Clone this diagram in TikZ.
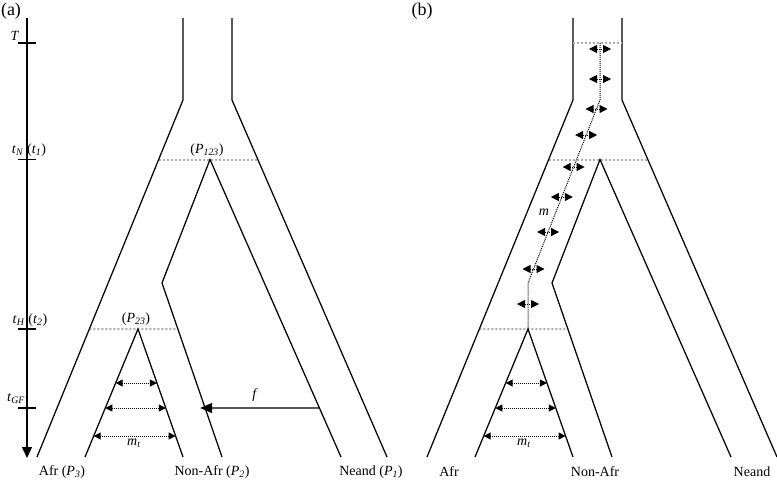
\documentclass[tikz,border=0pt]{standalone}
\usepackage{fontspec}
\setmainfont{Liberation Serif}
\usetikzlibrary{arrows.meta,calc}
\newcommand\psub[1]{\textsubscript{\textit{#1}}}
\tikzset{
 lin/.style={line width=1.25pt},
 gdot/.style={draw=black!32, line width=2pt, dash pattern=on 2pt off 2pt},
 dotl/.style={line width=1pt, dash pattern=on 1pt off 1pt},
 mig/.style={dotl, {Triangle[length=7pt,width=7pt]}-{Triangle[length=7pt,width=7pt]}},
 mig2/.style={dotl, {Triangle[length=8pt,width=8pt]}-{Triangle[length=8pt,width=8pt]}},
 lab/.style={font=\fontsize{14}{16}\selectfont, inner sep=0pt},
}
\newcommand\treecore[1]{%
 \coordinate (#1tl) at (183,18); \coordinate (#1tl2) at (183,100); \coordinate (#1afr) at (37,457);
 \coordinate (#1tr) at (232,18); \coordinate (#1tr2) at (232,100); \coordinate (#1ner) at (387,457);
 \coordinate (#1p123) at (210,159.5); \coordinate (#1kink) at (162,283);
 \coordinate (#1naf) at (222,457); \coordinate (#1nin) at (341,457);
 \coordinate (#1p23) at (138,329); \coordinate (#1ain) at (85,457); \coordinate (#1arin) at (183,457);
 \coordinate (#1g1l) at ($(#1tl2)!0.1667!(#1afr)$); \coordinate (#1g1r) at ($(#1tr2)!0.1667!(#1ner)$);
 \draw[gdot] (#1g1l) -- (#1g1r);
 \coordinate (#1g2l) at ($(#1tl2)!0.6415!(#1afr)$); \coordinate (#1g2r) at ($(#1kink)!0.2644!(#1naf)$);
 \draw[gdot] (#1g2l) -- (#1g2r);
 \draw[lin] (#1tl) -- (#1tl2) -- (#1afr);
 \draw[lin] (#1tr) -- (#1tr2) -- (#1ner);
 \draw[lin] (#1naf) -- (#1kink) -- (#1p123) -- (#1nin);
 \draw[lin] (#1ain) -- (#1p23) -- (#1arin);
 \foreach \f/\i in {0.4219/1,0.6172/2,0.8359/3} {
  \coordinate (#1ml\i) at ($(#1p23)!\f!(#1ain)$);
  \coordinate (#1mr\i) at ($(#1p23)!\f!(#1arin)$);
  \draw[mig] (#1ml\i) -- (#1mr\i);
 }
}
\begin{document}
\begin{tikzpicture}[x=1pt,y=-1pt]
\useasboundingbox (0,0) rectangle (777,482);
% panel (a)
\begin{scope}
 \treecore{a-}
 \coordinate (ax0) at (27,18); \coordinate (ax1) at (27,458);
 \draw[lin,-{Triangle[length=11pt,width=10pt]}] (ax0) -- (ax1);
 \foreach \y/\n in {43/T,159.5/N,329/H,408/GF} {
  \coordinate (tk\n l) at (18,\y); \coordinate (tk\n r) at (36,\y);
  \draw[lin] (tk\n l) -- (tk\n r);
 }
 \coordinate (gfs) at ($(a-p123)!0.8353!(a-nin)$);
 \coordinate (gfe) at ($(a-kink)!0.7184!(a-naf)$);
 \draw[line width=1.4pt,-{Triangle[length=12pt,width=10pt]},shorten >=-5pt] (gfs) -- (gfe);
 \node[lab] (la) at (11,11) {\fontsize{18}{20}\selectfont (a)};
 \node[lab] (lT) at (15,36) {\textit{T}};
 \node[lab] (ltN) at (29,150) {\textit{t}\psub{N} (\textit{t}\psub{1})};
 \node[lab] (ltH) at (30,320) {\textit{t}\psub{H} (\textit{t}\psub{2})};
 \node[lab] (ltGF) at (16,399) {\textit{t}\psub{GF}};
 \node[lab] (lP123) at (207,150) {(\textit{P}\psub{123})};
 \node[lab] (lP23) at (136,319) {(\textit{P}\psub{23})};
 \node[lab] (lf) at (255,395) {\textit{f}};
 \node[lab] (lmta) at (134,443) {\textit{m}\psub{t}};
 \node[lab] (lafr) at (62,472) {Afr (\textit{P}\psub{3})};
 \node[lab] (lnaf) at (212,472) {Non-Afr (\textit{P}\psub{2})};
 \node[lab] (lnea) at (371,472) {Neand (\textit{P}\psub{1})};
\end{scope}
% panel (b)
\begin{scope}[xshift=390pt]
 \treecore{b-}
 \coordinate (b-g0l) at (183,43); \coordinate (b-g0r) at (232,43);
 \draw[gdot] (b-g0l) -- (b-g0r);
 \coordinate (b-m0) at (210,43); \coordinate (b-m1) at (210,100); \coordinate (b-m2) at (138,283);
 \draw[dotl] (b-m0) -- (b-m1) -- (b-m2) -- (b-p23);
 \foreach \y/\x in {49/210,79/210,109/206.5,135/196.2,167/183.6,197/171.8,232/158.1,269/143.5,304/138} {
  \coordinate (b-dl\y) at (\x-11,\y); \coordinate (b-dr\y) at (\x+11,\y);
  \draw[mig2] (b-dl\y) -- (b-dr\y);
 }
 \node[lab] (lb) at (32,11) {\fontsize{18}{20}\selectfont (b)};
 \node[lab] (lm) at (154,212) {\textit{m}};
 \node[lab] (lmtb) at (134,443) {\textit{m}\psub{t}};
 \node[lab] (lbafr) at (59,472) {Afr};
 \node[lab] (lbnaf) at (205,472) {Non-Afr};
 \node[lab] (lbnea) at (362,472) {Neand};
\end{scope}
\end{tikzpicture}
\end{document}
